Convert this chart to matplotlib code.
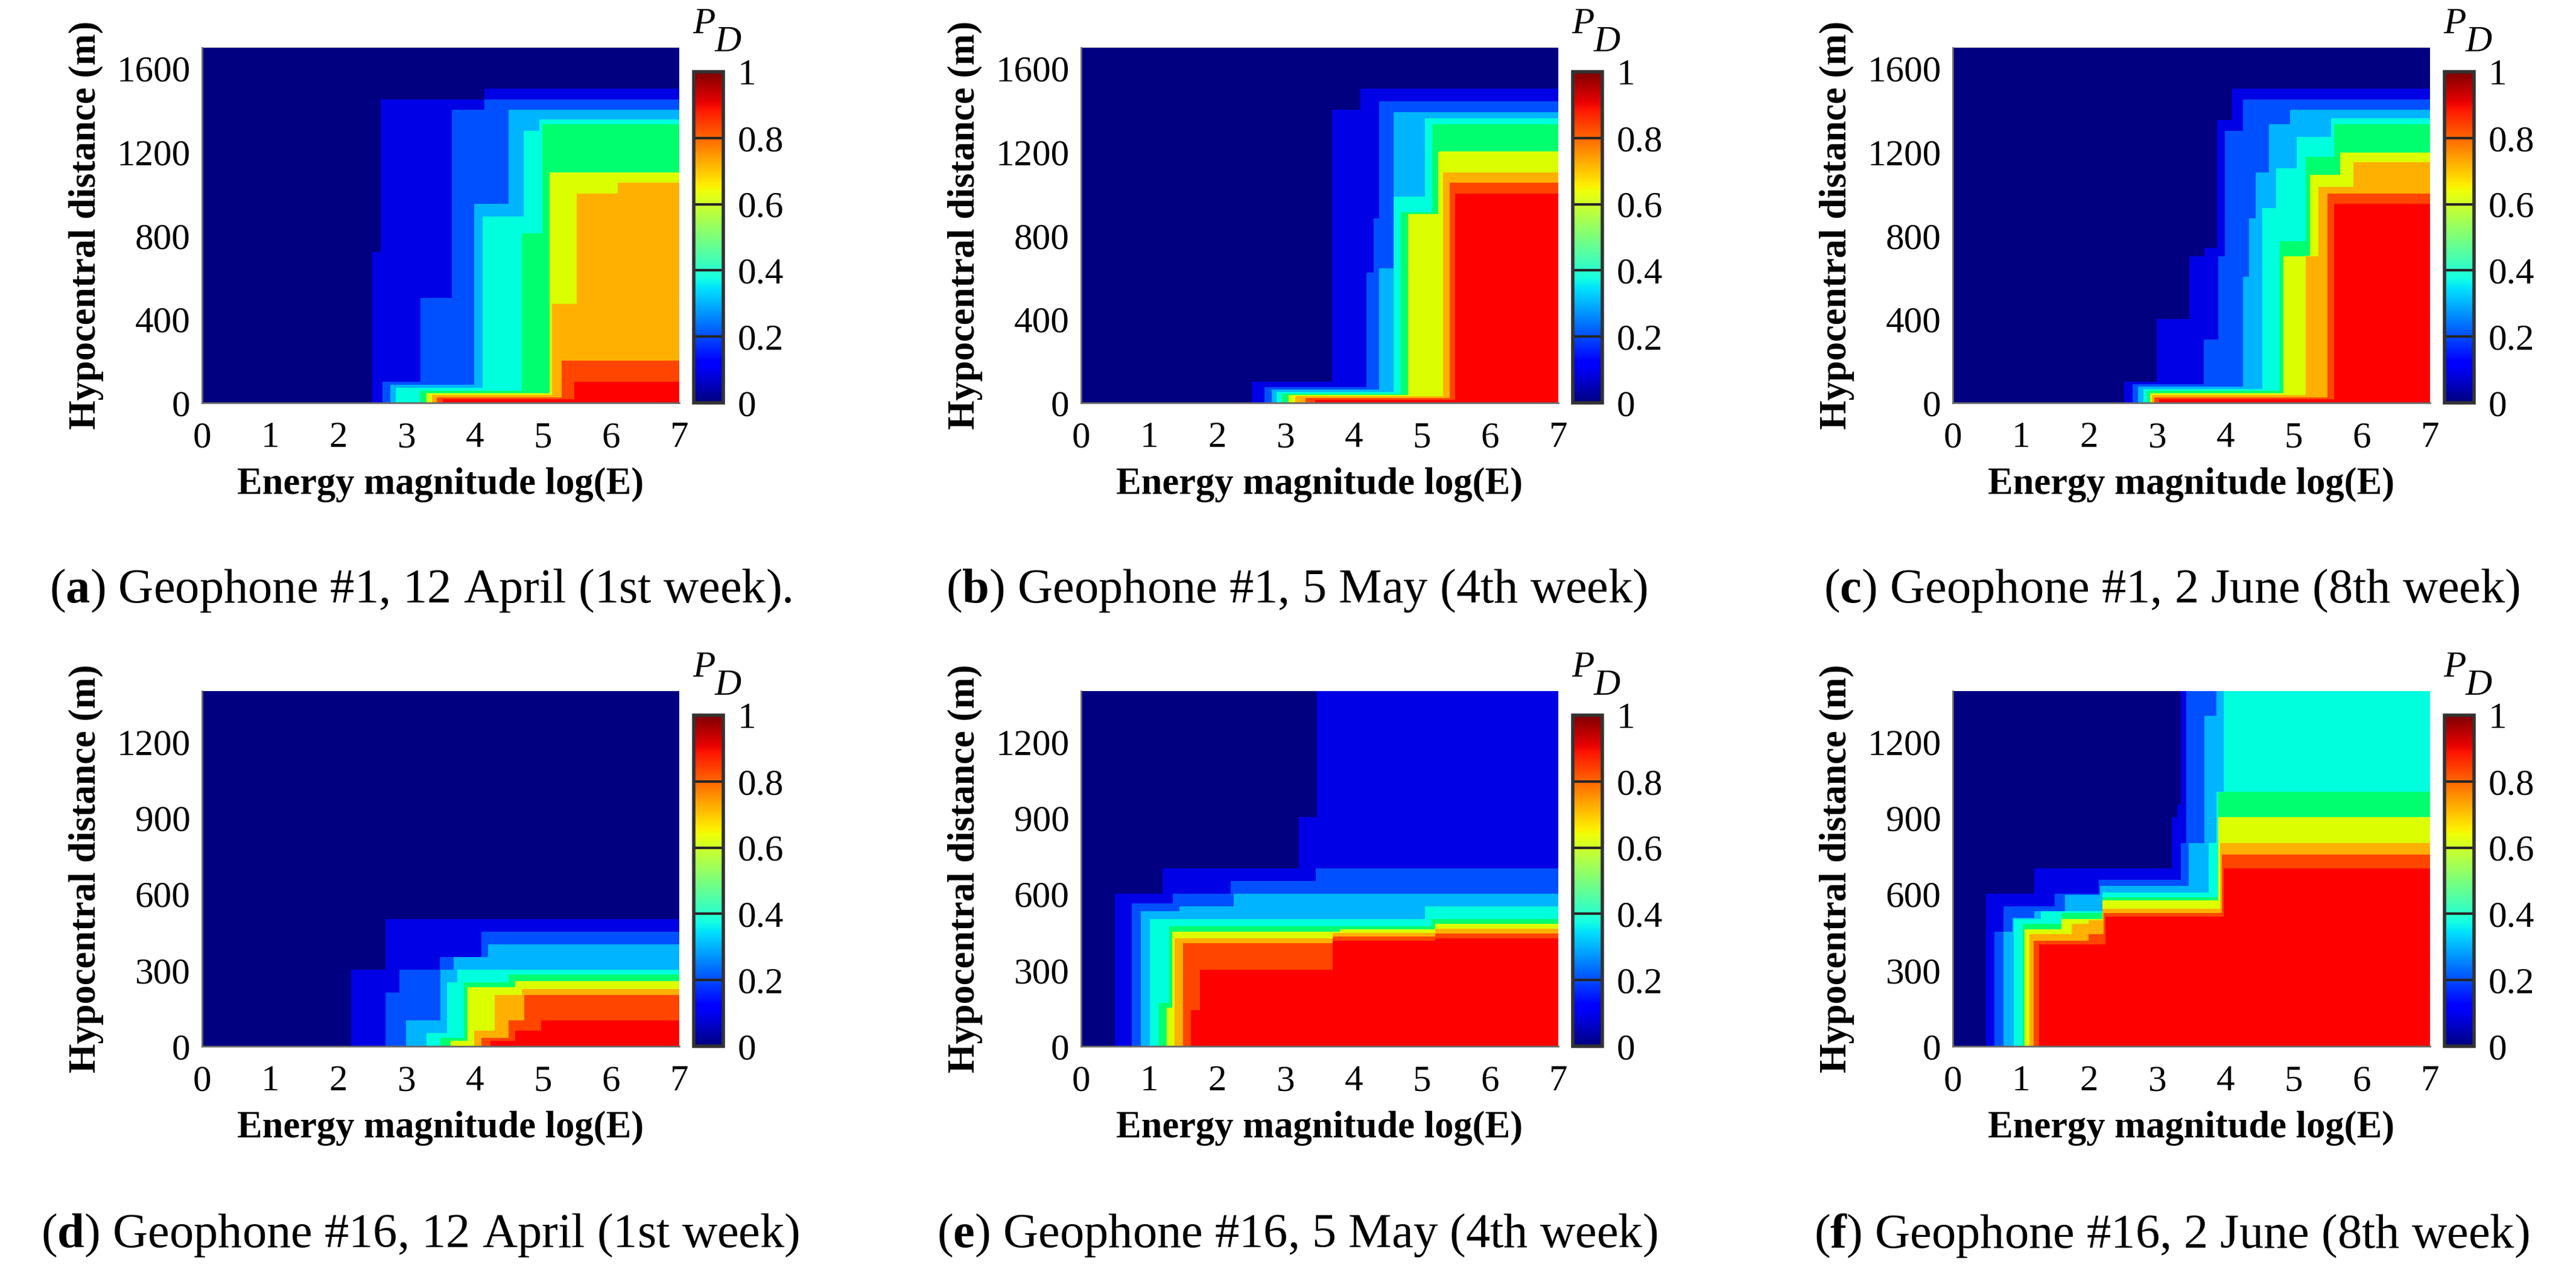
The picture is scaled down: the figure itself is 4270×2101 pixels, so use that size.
import numpy as np
import matplotlib
matplotlib.use("Agg")
import matplotlib.pyplot as plt
from matplotlib.cm import ScalarMappable
from matplotlib.colors import Normalize

plt.rcParams['font.family'] = ['Liberation Serif', 'DejaVu Serif']
plt.rcParams['mathtext.fontset'] = 'custom'
plt.rcParams['mathtext.rm'] = 'Liberation Serif'
plt.rcParams['mathtext.bf'] = 'Liberation Serif:bold'

# P_D bands 0.1 ... 0.9: for each band, staircase corners (min log(E), max distance m)
# a point (E, d) is in the band when E >= e0 and d <= d0 for some corner
pd_g1_apr = [
    [(2.50, 720), (2.63, 1450), (4.15, 1500)],
    [(2.65, 100), (3.21, 500), (3.67, 1400), (4.15, 1450)],
    [(2.77, 85), (4.0, 950), (4.5, 1400)],
    [(2.85, 70), (4.12, 890), (4.72, 1300), (4.95, 1355)],
    [(3.2, 55), (4.70, 810), (5.0, 1330)],
    [(3.3, 45), (5.1, 1100)],
    [(3.38, 35), (5.14, 470), (5.5, 1000), (6.1, 1050)],
    [(3.45, 25), (5.28, 200)],
    [(3.54, 15), (5.47, 100)],
]
pd_g1_may = [
    [(2.51, 100), (3.69, 1400), (4.1, 1500)],
    [(2.7, 75), (4.19, 620), (4.3, 880), (4.38, 1440)],
    [(2.8, 60), (4.38, 640), (4.59, 1390)],
    [(2.87, 50), (4.59, 985), (5.05, 1360)],
    [(2.95, 42), (4.7, 910), (5.16, 1330)],
    [(3.05, 35), (4.8, 900), (5.25, 1200)],
    [(3.15, 28), (5.32, 1100)],
    [(3.3, 20), (5.41, 1050)],
    [(3.44, 12), (5.49, 1000)],
]
pd_g1_jun = [
    [(2.52, 100), (3.0, 400), (3.48, 700), (3.7, 740), (3.88, 1350), (4.1, 1500)],
    [(2.64, 88), (3.69, 300), (3.9, 700), (4.0, 1300), (4.26, 1450)],
    [(2.72, 76), (4.26, 600), (4.35, 880), (4.45, 1100), (4.64, 1330), (4.95, 1400)],
    [(2.8, 65), (4.55, 930), (4.75, 1120), (5.05, 1270), (5.56, 1360)],
    [(2.86, 55), (4.8, 770), (5.18, 1175), (5.6, 1330)],
    [(2.9, 45), (4.86, 700), (5.25, 1090), (5.69, 1195)],
    [(2.93, 35), (5.18, 700), (5.37, 1030), (5.88, 1150)],
    [(2.96, 25), (5.5, 1000)],
    [(3.03, 15), (5.6, 950)],
]
pd_g16_apr = [
    [(2.19, 300), (2.7, 500)],
    [(2.70, 210), (2.9, 300), (3.49, 350), (4.1, 450)],
    [(3.0, 100), (3.5, 300), (3.7, 350), (4.2, 400)],
    [(3.3, 50), (3.6, 250), (3.75, 300)],
    [(3.5, 30), (3.85, 250), (4.5, 280)],
    [(3.65, 20), (3.9, 230), (4.6, 255)],
    [(4.0, 60), (4.3, 200), (4.7, 225)],
    [(4.1, 30), (4.5, 100), (4.73, 200)],
    [(4.24, 20), (4.6, 60), (4.98, 100)],
]
pd_g16_may = [
    [(0.50, 600), (1.2, 700), (3.2, 900), (3.47, 1400)],
    [(0.75, 560), (1.35, 600), (2.2, 650), (3.45, 700)],
    [(0.88, 530), (1.45, 550), (2.25, 600)],
    [(1.02, 500), (5.05, 550)],
    [(1.15, 170), (1.3, 470), (5.15, 500)],
    [(1.26, 150), (1.34, 450), (3.8, 460), (5.2, 480)],
    [(1.38, 425), (3.7, 445), (5.2, 462)],
    [(1.5, 405), (3.7, 430), (5.2, 442)],
    [(1.62, 140), (1.75, 300), (3.7, 415), (5.2, 425)],
]
pd_g16_jun = [
    [(0.49, 600), (1.2, 700), (3.22, 900), (3.3, 950), (3.35, 1400)],
    [(0.62, 450), (0.75, 550), (1.5, 600), (2.15, 655), (3.35, 800), (3.43, 1400)],
    [(0.75, 450), (0.88, 505), (1.2, 530), (1.65, 595), (2.17, 630), (3.47, 800), (3.7, 1300), (3.87, 1400)],
    [(0.9, 500), (1.3, 530), (2.2, 605), (3.76, 800), (3.87, 1000), (3.98, 1400)],
    [(1.03, 480), (1.6, 525), (2.2, 585), (3.9, 1000)],
    [(1.06, 460), (1.6, 500), (2.2, 575), (3.9, 900)],
    [(1.13, 440), (1.75, 480), (2.0, 495), (2.2, 540), (3.93, 800)],
    [(1.19, 415), (2.0, 440), (2.22, 525), (3.95, 755)],
    [(1.27, 400), (2.25, 510), (3.98, 700)],
]

panels = [pd_g1_apr, pd_g1_may, pd_g1_jun, pd_g16_apr, pd_g16_may, pd_g16_jun]
captions = [
    ('a', 'Geophone #1, 12 April (1st week).'),
    ('b', 'Geophone #1, 5 May (4th week)'),
    ('c', 'Geophone #1, 2 June (8th week)'),
    ('d', 'Geophone #16, 12 April (1st week)'),
    ('e', 'Geophone #16, 5 May (4th week)'),
    ('f', 'Geophone #16, 2 June (8th week)'),
]
dist_max = [1700, 1400]
dist_ticks = [[0, 400, 800, 1200, 1600], [0, 300, 600, 900, 1200]]
energy_ticks = [0, 1, 2, 3, 4, 5, 6, 7]
cbar_ticks = [0, 0.2, 0.4, 0.6, 0.8, 1]
cbar_labels = ['0', '0.2', '0.4', '0.6', '0.8', '1']

band_colors = ['#000080', '#0000E6', '#0050FF', '#00B4FF', '#00FFDC',
               '#00FF6E', '#DCFF00', '#FFB000', '#FF4500', '#FF0000']


def pd_field(bands, dmax):
    e = np.linspace(0, 7, 1401)
    d = np.linspace(0, dmax, dmax // 2 + 1)
    E, D = np.meshgrid(e, d)
    level = np.zeros(E.shape)
    for k, corners in enumerate(bands, start=1):
        inside = np.zeros(E.shape, bool)
        for e0, d0 in corners:
            inside |= (E >= e0) & (D <= d0)
        level[inside] = k
    return e, d, level * 0.1 + 0.05


W, H = 4270, 2101
fig = plt.figure(figsize=(W / 100, H / 100), dpi=100)


def rect(left, top, w, h):
    return [left / W, 1 - (top + h) / H, w / W, h / H]


col_left = [335, 1792, 3237]
row_top = [79, 1146]
cap_x = [697, 2150, 3600]
cap_y = [980, 2049]

for i, bands in enumerate(panels):
    r, c = divmod(i, 3)
    x0, y0 = col_left[c], row_top[r]
    ax = fig.add_axes(rect(x0, y0, 791, 589))
    e, d, z = pd_field(bands, dist_max[r])
    ax.contourf(e, d, z, levels=np.linspace(0, 1, 11), colors=band_colors)
    ax.set_xlim(0, 7)
    ax.set_ylim(0, dist_max[r])
    ax.set_xticks(energy_ticks)
    ax.set_yticks(dist_ticks[r])
    ax.tick_params(axis='both', length=0, labelsize=44)
    ax.tick_params(axis='x', pad=22)
    ax.tick_params(axis='y', pad=14)
    for s in ['top', 'right']:
        ax.spines[s].set_visible(False)
    for s in ['left', 'bottom']:
        ax.spines[s].set_color('#6a6a6a')
        ax.spines[s].set_linewidth(2)
    ax.set_xlabel('Energy magnitude log(E)', fontsize=45, fontweight='bold', va='center')
    ax.xaxis.set_label_coords(0.5, -0.231)
    ax.set_ylabel('Hypocentral distance (m)', fontsize=45, fontweight='bold', va='center')
    ax.yaxis.set_label_coords(-0.243, 0.5)

    cax = fig.add_axes(rect(x0 + 815, y0 + 40, 49, 549))
    cb = fig.colorbar(ScalarMappable(norm=Normalize(0, 1), cmap='jet'), cax=cax, ticks=cbar_ticks)
    cb.ax.set_yticklabels(cbar_labels)
    for v in cbar_ticks[1:-1]:
        cax.axhline(v, color='#262626', lw=3)
    cb.outline.set_linewidth(4)
    cb.outline.set_edgecolor('#333333')
    cax.tick_params(length=0, pad=17, labelsize=44)

    fig.text((x0 + 832) / W, 1 - (y0 - 39) / H, 'P', fontsize=44, style='italic',
             ha='center', va='center')
    fig.text((x0 + 872) / W, 1 - (y0 - 9) / H, 'D', fontsize=44, style='italic',
             ha='center', va='center')

    letter, text = captions[i]
    fig.text(cap_x[c] / W, 1 - cap_y[r] / H, '($\\mathbf{%s}$) %s' % (letter, text),
             fontsize=58, ha='center', va='center')

fig.savefig('out.png', dpi=100, facecolor='white')
